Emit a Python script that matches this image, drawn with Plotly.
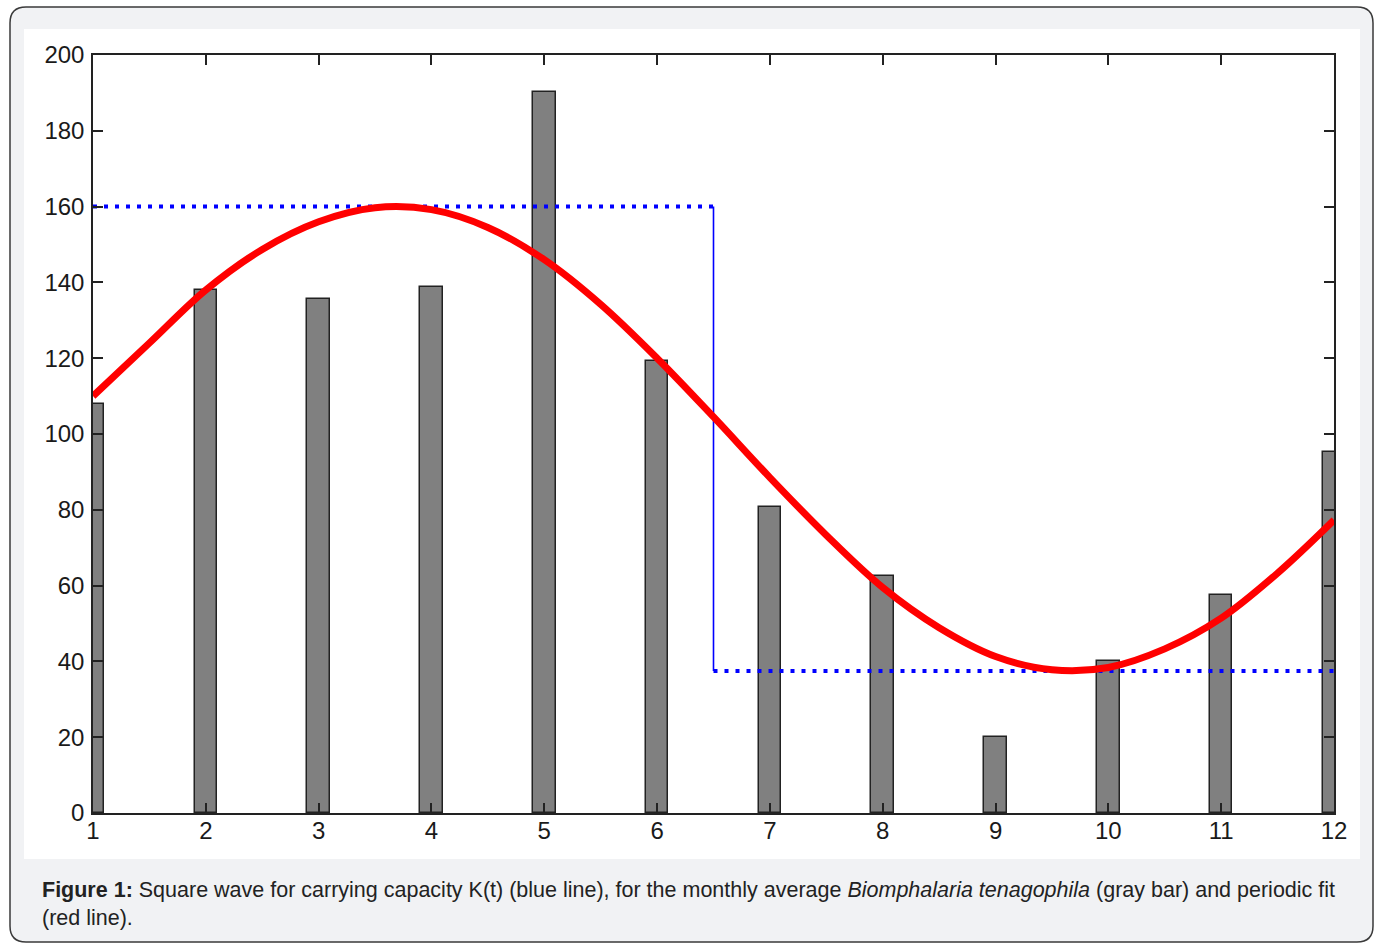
import plotly.graph_objects as go

W, H = 1380, 945

months = [1, 2, 3, 4, 5, 6, 7, 8, 9, 10, 11, 12]
snail_counts = [108, 138, 135.6, 138.8, 190.2, 119.3, 80.7, 62.5, 20, 40.1, 57.5, 95.2]

fit_x = [1, 1.5, 2, 2.5, 3, 3.5, 4, 4.5, 5, 5.5, 6, 6.5, 7, 7.5, 8, 8.5, 9, 9.5, 10, 10.5, 11, 11.5, 12]
fit_y = [110, 124, 138, 148.7, 156, 159.7, 159.2, 154.5, 146, 134.2, 120, 104.5, 88.5, 73.3, 59.5, 48.9, 41.3, 37.8, 38.4, 43.3, 51.4, 63.3, 77.3]

k_high = 160
k_low = 37.5
k_switch = 6.5
x_start, x_end = 1, 12

y_ticks = [0, 20, 40, 60, 80, 100, 120, 140, 160, 180, 200]

# plot-area pixel box
L, R, T, B = 93, 1334, 55, 813

fig = go.Figure()

fig.add_trace(go.Bar(
    x=months, y=snail_counts, width=0.2,
    marker=dict(color="#808080", line=dict(color="#222222", width=1.5)),
    showlegend=False, hoverinfo="skip",
))

fig.add_trace(go.Scatter(
    x=[x_start, k_switch], y=[k_high, k_high], mode="lines",
    line=dict(color="#0000ff", width=4, dash="4px,7px"),
    showlegend=False, hoverinfo="skip",
))
fig.add_trace(go.Scatter(
    x=[k_switch, k_switch], y=[k_high, k_low], mode="lines",
    line=dict(color="#0000ff", width=1.6),
    showlegend=False, hoverinfo="skip",
))
fig.add_trace(go.Scatter(
    x=[k_switch, x_end], y=[k_low, k_low], mode="lines",
    line=dict(color="#0000ff", width=4, dash="4px,7px"),
    showlegend=False, hoverinfo="skip",
))

fig.add_trace(go.Scatter(
    x=fit_x, y=fit_y, mode="lines",
    line=dict(color="#ff0000", width=7, shape="spline", smoothing=1.0),
    showlegend=False, hoverinfo="skip", cliponaxis=False,
))

tickfont = dict(family="Liberation Sans, Arial, sans-serif", size=24, color="#1a1a1a")

fig.update_layout(
    width=W, height=H,
    margin=dict(l=0, r=0, t=0, b=0, autoexpand=False),
    paper_bgcolor="white",
    plot_bgcolor="white",
    bargap=0,
    xaxis=dict(
        domain=[L / W, R / W],
        range=[x_start, x_end],
        tickvals=months,
        ticks="inside", ticklen=10, tickwidth=1.5, tickcolor="#222222",
        showline=True, linecolor="#222222", linewidth=1.5, mirror="ticks",
        showgrid=False, zeroline=False, automargin=False,
        tickfont=tickfont, ticklabelstandoff=-5,
    ),
    yaxis=dict(
        domain=[1 - B / H, 1 - T / H],
        range=[0, 200],
        tickvals=y_ticks,
        ticks="inside", ticklen=10, tickwidth=1.5, tickcolor="#222222",
        showline=True, linecolor="#222222", linewidth=1.5, mirror="ticks",
        showgrid=False, zeroline=False, automargin=False,
        tickfont=tickfont, ticklabelstandoff=2,
    ),
)

def px(x):
    return x / W

def py(y):
    return 1 - y / H

# rounded outer frame
x0, y0, x1, y1, r = 10, 7, 1373, 942, 16
path = (
    f"M {px(x0 + r)} {py(y0)} L {px(x1 - r)} {py(y0)} "
    f"Q {px(x1)} {py(y0)} {px(x1)} {py(y0 + r)} "
    f"L {px(x1)} {py(y1 - r)} Q {px(x1)} {py(y1)} {px(x1 - r)} {py(y1)} "
    f"L {px(x0 + r)} {py(y1)} Q {px(x0)} {py(y1)} {px(x0)} {py(y1 - r)} "
    f"L {px(x0)} {py(y0 + r)} Q {px(x0)} {py(y0)} {px(x0 + r)} {py(y0)} Z"
)
fig.add_shape(type="path", path=path, xref="paper", yref="paper",
              fillcolor="#f1f2f4", line=dict(color="#3a3a3a", width=1.5), layer="below")
fig.add_shape(type="rect", xref="paper", yref="paper",
              x0=px(24), x1=px(1360), y0=py(859), y1=py(29),
              fillcolor="white", line=dict(width=0), layer="below")

caption = ("<b>Figure 1:</b> Square wave for carrying capacity K(t) (blue line), for the monthly average "
           "<i>Biomphalaria tenagophila</i> (gray bar) and periodic fit<br>(red line).")
fig.add_annotation(
    text=caption, xref="paper", yref="paper", x=px(40), y=py(876),
    xanchor="left", yanchor="top", align="left", showarrow=False,
    font=dict(family="Liberation Sans, Arial, sans-serif", size=21.5, color="#222222"),
)

fig.write_html("out.html", config={"displayModeBar": False},
               post_script="document.body.style.margin='0';document.body.style.overflow='hidden';")
